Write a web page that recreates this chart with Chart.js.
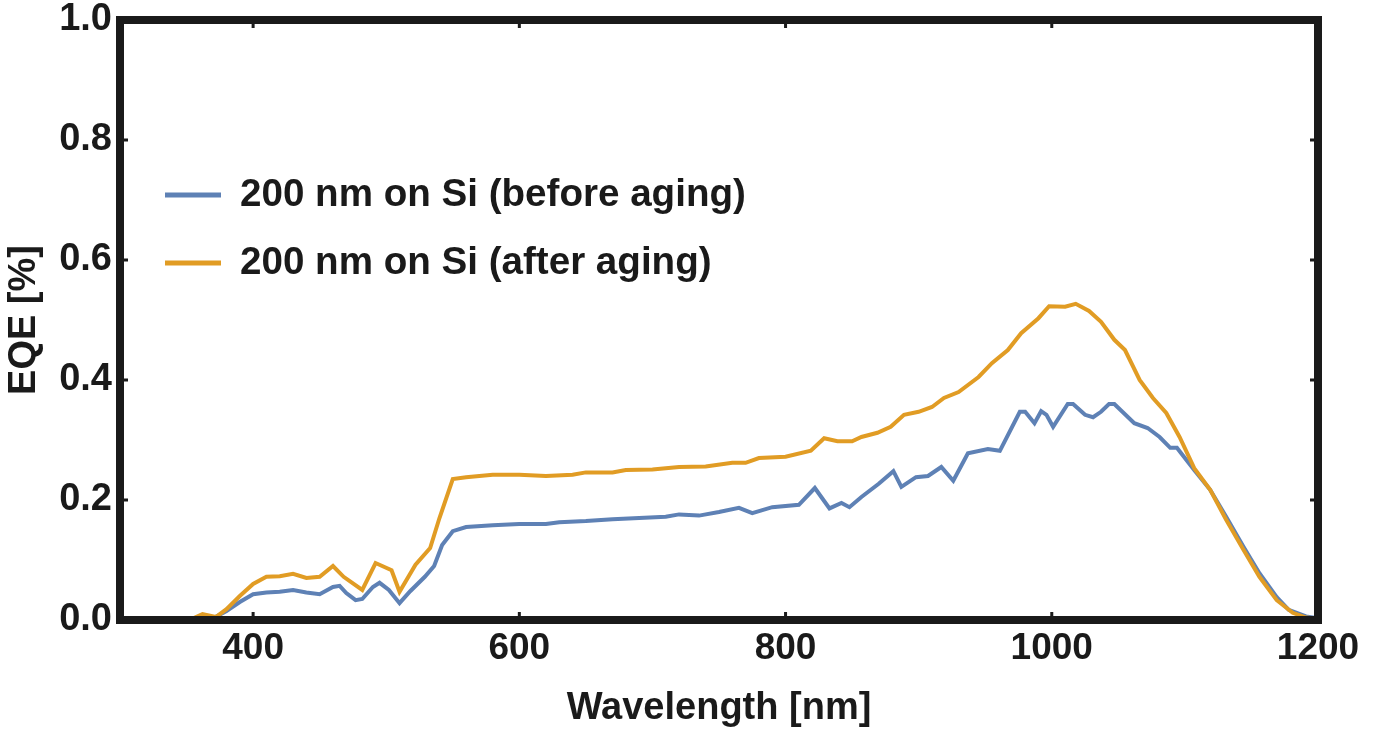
<!DOCTYPE html>
<html>
<head>
<meta charset="utf-8">
<script src="https://cdn.jsdelivr.net/npm/chart.js@4.4.1/dist/chart.umd.min.js"></script>
<style>
  html, body { margin: 0; padding: 0; background: #fff; }
  #wrap { width: 1381px; height: 731px; }
</style>
</head>
<body>
<div id="wrap"><canvas id="eqeChart" width="1381" height="731"></canvas></div>
<script>
// EQE spectra
const beforeLabel = '200 nm on Si (before aging)';
const afterLabel = '200 nm on Si (after aging)';

const beforeNm = [350, 360, 370, 380, 390, 400, 410, 420, 430, 440, 450, 460, 465, 470, 477, 482, 490, 495, 502, 510,
  518, 529, 536, 542, 550, 560, 580, 600, 620, 630, 650, 670, 690, 710, 720, 735, 750, 765, 775, 790,
  810, 822, 833, 842, 848, 857, 870, 881, 887, 898, 907, 917, 926, 937, 952, 961, 976, 980, 987, 992,
  996, 1001, 1012, 1016, 1025, 1031, 1037, 1043, 1047, 1062, 1072, 1081, 1089, 1094, 1107, 1119, 1131, 1144, 1156, 1169,
  1178, 1191, 1200];
const beforeEqe = [0, 0.002, 0.003, 0.015, 0.03, 0.043, 0.046, 0.047, 0.05, 0.046, 0.043, 0.055, 0.057, 0.045, 0.033, 0.035, 0.055, 0.062, 0.05, 0.028,
  0.048, 0.072, 0.09, 0.125, 0.148, 0.155, 0.158, 0.16, 0.16, 0.163, 0.165, 0.168, 0.17, 0.172, 0.176, 0.174, 0.18, 0.187, 0.178, 0.188,
  0.192, 0.22, 0.186, 0.195, 0.188, 0.205, 0.227, 0.248, 0.222, 0.238, 0.24, 0.255, 0.232, 0.278, 0.285, 0.282, 0.347, 0.347, 0.328, 0.348,
  0.342, 0.322, 0.36, 0.36, 0.342, 0.338, 0.347, 0.36, 0.36, 0.328, 0.32, 0.305, 0.287, 0.287, 0.25, 0.217, 0.172, 0.122, 0.078, 0.038,
  0.017, 0.006, 0.003];

const afterNm = [350, 355, 362, 372, 380, 390, 400, 410, 420, 430, 440, 450, 460, 468, 482, 492, 504, 510, 522, 533,
  540, 550, 560, 580, 600, 620, 640, 650, 670, 680, 700, 720, 740, 760, 770, 780, 800, 819, 829, 839,
  850, 857, 869, 879, 889, 900, 910, 919, 930, 945, 955, 967, 977, 990, 998, 1010, 1018, 1028, 1037, 1047,
  1055, 1066, 1076, 1086, 1096, 1107, 1119, 1131, 1144, 1156, 1169, 1181, 1191, 1200];
const afterEqe = [0, 0.003, 0.01, 0.005, 0.018, 0.04, 0.06, 0.072, 0.073, 0.077, 0.07, 0.072, 0.09, 0.072, 0.05, 0.095, 0.083, 0.047, 0.092, 0.12,
  0.17, 0.235, 0.238, 0.242, 0.242, 0.24, 0.242, 0.246, 0.246, 0.25, 0.251, 0.255, 0.256, 0.262, 0.262, 0.27, 0.272, 0.282, 0.303, 0.298,
  0.298, 0.305, 0.312, 0.322, 0.342, 0.347, 0.355, 0.37, 0.38, 0.405, 0.428, 0.45, 0.478, 0.503, 0.523, 0.522, 0.527, 0.515, 0.497, 0.467,
  0.45, 0.4, 0.37, 0.345, 0.305, 0.253, 0.217, 0.167, 0.117, 0.072, 0.033, 0.012, 0.004, 0.002];

const xTicks = [400, 600, 800, 1000, 1200];
const yTicks = [0, 0.2, 0.4, 0.6, 0.8, 1.0];

const blue = '#5E81B5';
const orange = '#E19C24';
const ink = '#1a1a1a';
const fontFamily = '"Liberation Sans", Arial, Helvetica, sans-serif';

const toPoints = (xs, ys) => xs.map((x, i) => ({ x, y: ys[i] }));

// frame with small inward ticks on all four sides
const framePlugin = {
  id: 'frame',
  afterDraw(chart) {
    const { ctx, chartArea: a, scales } = chart;
    ctx.save();
    ctx.strokeStyle = ink;
    ctx.lineWidth = 8;
    ctx.strokeRect(a.left, a.top, a.right - a.left, a.bottom - a.top);
    ctx.fillStyle = ink;
    xTicks.forEach(v => {
      const px = scales.x.getPixelForValue(v);
      ctx.fillRect(px - 1.5, a.bottom - 8, 3, 4);
      ctx.fillRect(px - 1.5, a.top + 4, 3, 4);
    });
    yTicks.forEach(v => {
      const py = scales.y.getPixelForValue(v);
      ctx.fillRect(a.left + 4, py - 1.5, 4, 3);
      ctx.fillRect(a.right - 8, py - 1.5, 4, 3);
    });
    ctx.restore();
  }
};

// legend drawn inside the plot
const legendPlugin = {
  id: 'innerLegend',
  afterDatasetsDraw(chart) {
    const { ctx } = chart;
    const items = [
      { label: beforeLabel, color: blue, y: 195 },
      { label: afterLabel, color: orange, y: 263 },
    ];
    ctx.save();
    ctx.font = 'bold 38.6px ' + fontFamily;
    ctx.textBaseline = 'middle';
    ctx.textAlign = 'left';
    items.forEach(it => {
      ctx.strokeStyle = it.color;
      ctx.lineWidth = 5;
      ctx.beginPath();
      ctx.moveTo(165, it.y);
      ctx.lineTo(221, it.y);
      ctx.stroke();
      ctx.fillStyle = ink;
      ctx.fillText(it.label, 240, it.y);
    });
    ctx.restore();
  }
};

new Chart(document.getElementById('eqeChart'), {
  type: 'line',
  data: {
    datasets: [
      {
        label: beforeLabel,
        data: toPoints(beforeNm, beforeEqe),
        borderColor: blue,
        borderWidth: 4,
        pointRadius: 0,
        tension: 0,
        order: 2,
      },
      {
        label: afterLabel,
        data: toPoints(afterNm, afterEqe),
        borderColor: orange,
        borderWidth: 4,
        pointRadius: 0,
        tension: 0,
        order: 1,
      },
    ],
  },
  options: {
    responsive: false,
    animation: false,
    layout: { padding: { top: 20, right: 63, left: 0, bottom: 0 } },
    plugins: { legend: { display: false }, tooltip: { enabled: false } },
    scales: {
      x: {
        type: 'linear',
        min: 300,
        max: 1200,
        afterBuildTicks: s => { s.ticks = xTicks.map(v => ({ value: v })); },
        afterFit: s => { s.height = 111; },
        grid: { display: false, drawTicks: false },
        border: { display: false },
        ticks: {
          color: ink,
          padding: 10,
          maxRotation: 0,
          callback: v => String(v),
          font: { family: fontFamily, size: 37, weight: 'bold', lineHeight: 1.0 },
        },
        title: {
          display: true,
          text: 'Wavelength [nm]',
          color: ink,
          padding: { top: 0, bottom: 0 },
          font: { family: fontFamily, size: 38, weight: 'bold' },
        },
      },
      y: {
        min: 0,
        max: 1,
        afterBuildTicks: s => { s.ticks = yTicks.map(v => ({ value: v })); },
        afterFit: s => { s.width = 120; },
        grid: { display: false, drawTicks: false },
        border: { display: false },
        ticks: {
          color: ink,
          padding: 8,
          callback: v => v.toFixed(1),
          font: { family: fontFamily, size: 38, weight: 'bold', lineHeight: 0.5 },
        },
        title: {
          display: true,
          text: 'EQE [%]',
          color: ink,
          padding: { top: 2, bottom: 0 },
          font: { family: fontFamily, size: 38, weight: 'bold' },
        },
      },
    },
  },
  plugins: [framePlugin, legendPlugin],
});
</script>
</body>
</html>
